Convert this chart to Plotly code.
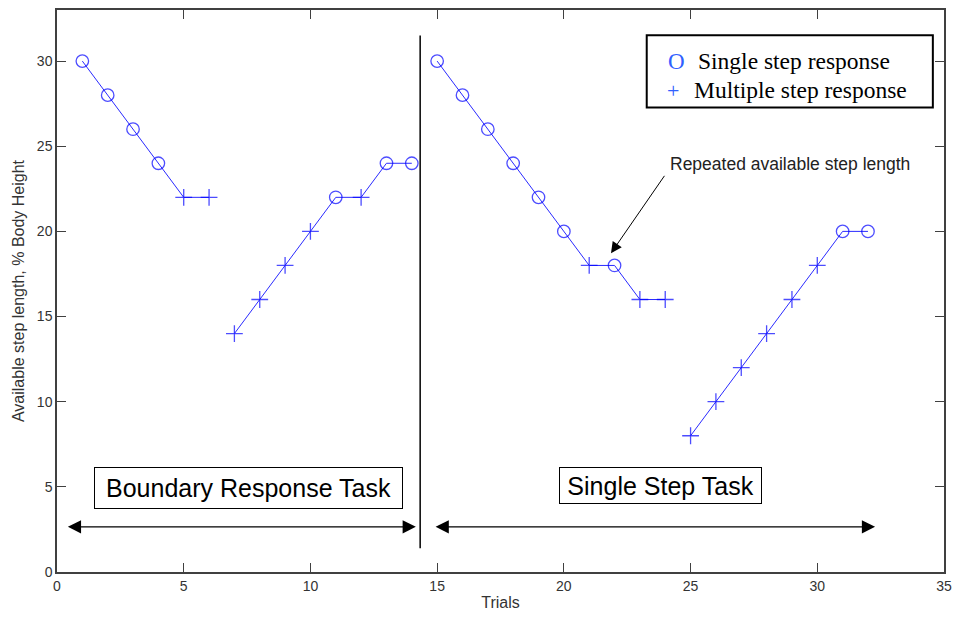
import plotly.graph_objects as go

# ---- data ----
trials_a = [1, 2, 3, 4, 5, 6]
length_a = [30, 28, 26, 24, 22, 22]
kind_a = ["single", "single", "single", "single", "multi", "multi"]

trials_b = [7, 8, 9, 10, 11, 12, 13, 14]
length_b = [14, 16, 18, 20, 22, 22, 24, 24]
kind_b = ["multi", "multi", "multi", "multi", "single", "multi", "single", "single"]

trials_c = [15, 16, 17, 18, 19, 20, 21, 22, 23, 24]
length_c = [30, 28, 26, 24, 22, 20, 18, 18, 16, 16]
kind_c = ["single", "single", "single", "single", "single", "single", "multi", "single", "multi", "multi"]

trials_d = [25, 26, 27, 28, 29, 30, 31, 32]
length_d = [8, 10, 12, 14, 16, 18, 20, 20]
kind_d = ["multi", "multi", "multi", "multi", "multi", "multi", "single", "single"]

x_ticks = [0, 5, 10, 15, 20, 25, 30, 35]
y_ticks = [0, 5, 10, 15, 20, 25, 30]

BLUE = "#0000ff"
SYM = {"single": "circle-open", "multi": "cross-thin-open"}
SIZE = {"single": 12.5, "multi": 12}

fig = go.Figure()
for xs, ys, ks in [(trials_a, length_a, kind_a), (trials_b, length_b, kind_b),
                   (trials_c, length_c, kind_c), (trials_d, length_d, kind_d)]:
    fig.add_trace(go.Scatter(
        x=xs, y=ys, mode="lines+markers",
        line=dict(color="#2a2aff", width=1),
        marker=dict(symbol=[SYM[k] for k in ks], size=[SIZE[k] for k in ks],
                    color=BLUE, line=dict(color=BLUE, width=1.3)),
        showlegend=False, hoverinfo="skip"))

axis_common = dict(showline=True, linecolor="#404040", linewidth=1.5, mirror="ticks",
                   ticks="inside", ticklen=9, tickcolor="#404040", tickwidth=1.2,
                   showgrid=False, zeroline=False,
                   tickfont=dict(family="Liberation Sans, Arial", size=14, color="#333333"))

fig.update_xaxes(range=[0, 35], tickvals=x_ticks, **axis_common,
                 title=dict(text="Trials", font=dict(family="Liberation Sans, Arial", size=16, color="#333333"),
                            standoff=4))
fig.update_yaxes(range=[0, 33], tickvals=y_ticks, **axis_common,
                 title=dict(text="Available step length, % Body Height",
                            font=dict(family="Liberation Sans, Arial", size=16, color="#333333"),
                            standoff=8))

# vertical separator
fig.add_shape(type="line", x0=14.33, x1=14.33, y0=1.39, y1=31.5, xref="x", yref="y",
              line=dict(color="black", width=1.5))

# legend box
fig.add_shape(type="rect", x0=23.27, x1=34.56, y0=27.27, y1=31.52, xref="x", yref="y",
              line=dict(color="black", width=2), fillcolor="white")

ann = []
serif = "Liberation Serif, Times New Roman"
ann.append(dict(x=24.43, y=30.0, xref="x", yref="y", text="O", showarrow=False,
                font=dict(family=serif, size=23, color="#3060ff"), xanchor="center"))
ann.append(dict(x=25.2, y=30.0, xref="x", yref="y", text="Single step response", showarrow=False,
                font=dict(family=serif, size=23.5, color="black"), xanchor="left"))
ann.append(dict(x=24.3, y=28.3, xref="x", yref="y", text="+", showarrow=False,
                font=dict(family=serif, size=22, color="#3060ff"), xanchor="center"))
ann.append(dict(x=25.05, y=28.3, xref="x", yref="y", text="Multiple step response", showarrow=False,
                font=dict(family=serif, size=23.5, color="black"), xanchor="left"))

# task boxes
ann.append(dict(x=7.55, y=4.92, xref="x", yref="y", text="Boundary Response Task", showarrow=False,
                font=dict(family="Liberation Sans, Arial", size=25, color="black"),
                bordercolor="black", borderwidth=1, width=305, height=38, bgcolor="white"))
ann.append(dict(x=23.81, y=5.07, xref="x", yref="y", text="Single Step Task", showarrow=False,
                font=dict(family="Liberation Sans, Arial", size=25, color="black"),
                bordercolor="black", borderwidth=1, width=199, height=33, bgcolor="white"))

# double-headed arrows
for x0, x1 in [(0.37, 14.16), (14.88, 32.28)]:
    ann.append(dict(x=x1, y=2.65, ax=x0, ay=2.65, xref="x", yref="y", axref="x", ayref="y",
                    text="", showarrow=True, arrowhead=2, startarrowhead=2, arrowside="end+start",
                    arrowsize=2.2, startarrowsize=2.2, arrowwidth=1.2, arrowcolor="black",
                    standoff=0, startstandoff=0))

# repeated step annotation
ann.append(dict(x=24.1, y=23.93, xref="x", yref="y", text="Repeated available step length",
                showarrow=False, xanchor="left",
                font=dict(family="Liberation Sans, Arial", size=17.5, color="#222222")))
ann.append(dict(x=21.86, y=18.72, ax=24.01, ay=23.35, xref="x", yref="y", axref="x", ayref="y",
                text="", showarrow=True, arrowhead=2, arrowsize=2.2, arrowwidth=1,
                arrowcolor="black", standoff=0))

fig.update_layout(width=960, height=618, autosize=False,
                  margin=dict(l=57, r=10, t=8, b=46),
                  plot_bgcolor="white", paper_bgcolor="white",
                  annotations=ann, showlegend=False)

fig.write_html("out.html")
